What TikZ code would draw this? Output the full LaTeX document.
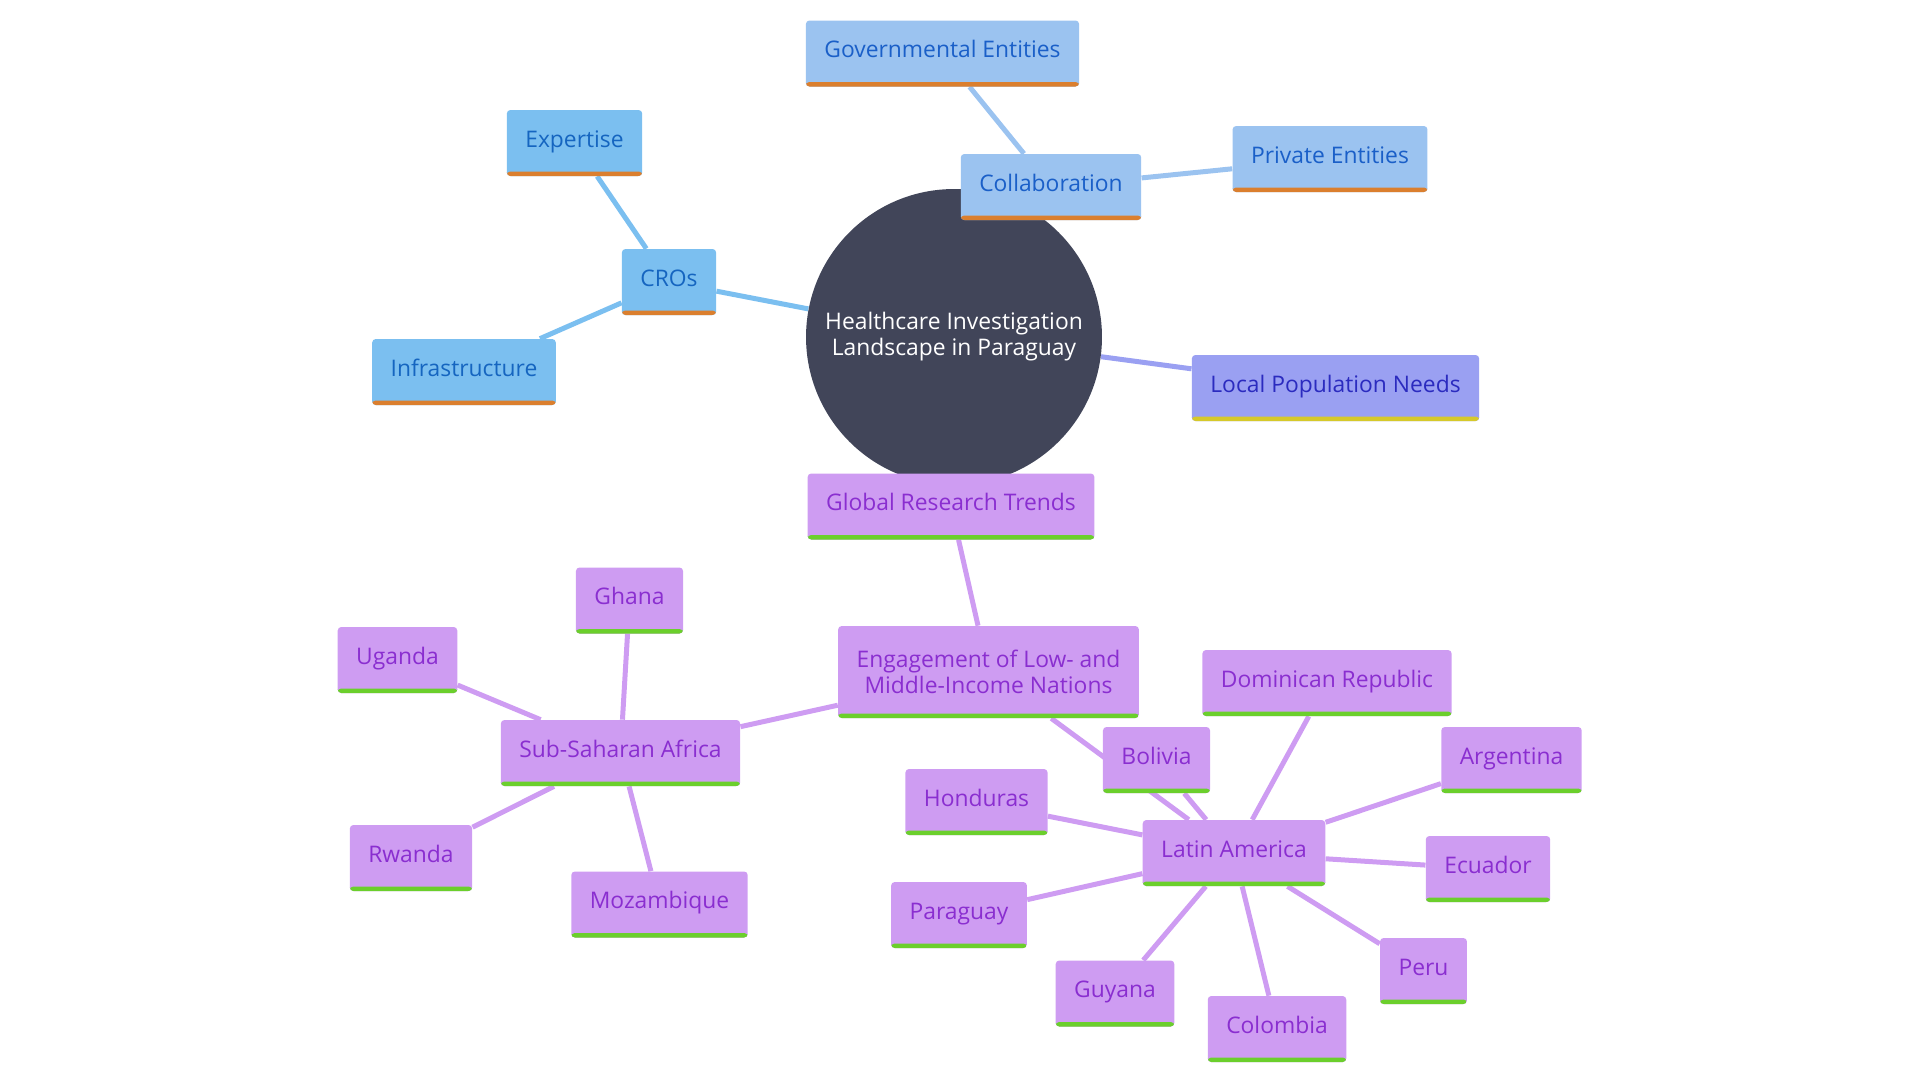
\documentclass[tikz,border=0pt]{standalone}
\usepackage{fontspec}
\setmainfont{Open Sans}
\usetikzlibrary{backgrounds}

\definecolor{hubfill}{HTML}{414559}
\definecolor{crofill}{HTML}{7BBFF0}
\definecolor{crotext}{HTML}{1565C0}
\definecolor{colfill}{HTML}{9BC3F0}
\definecolor{coltext}{HTML}{1A5FC8}
\definecolor{orangeline}{HTML}{DB7F2E}
\definecolor{locfill}{HTML}{9AA0F2}
\definecolor{loctext}{HTML}{2B2BBF}
\definecolor{yellowline}{HTML}{D6C92A}
\definecolor{purpfill}{HTML}{CE9CF2}
\definecolor{purptext}{HTML}{8A2ED0}
\definecolor{greenline}{HTML}{6BCF2C}

\tikzset{
  topic/.style={rectangle, rounded corners=2pt, minimum height=1.32cm,
    inner xsep=0.37cm, inner ysep=0pt, text height=0.32cm, text depth=0.15cm,
    font=\fontsize{13}{14.8}\selectfont, align=center},
  underbar/.style={path picture={\fill[#1] ([yshift=0.09cm]path picture bounding box.south west)
    rectangle (path picture bounding box.south east);}},
  crobox/.style={topic, fill=crofill, text=crotext, underbar=orangeline},
  colbox/.style={topic, fill=colfill, text=coltext, underbar=orangeline},
  locbox/.style={topic, fill=locfill, text=loctext, underbar=yellowline},
  purpbox/.style={topic, fill=purpfill, text=purptext, underbar=greenline},
  link/.style={line width=0.1cm},
}

\begin{document}
\begin{tikzpicture}[x=0.02cm, y=-0.02cm]
    \useasboundingbox (0,0) rectangle (1920,1080);
    % hub
    \node[circle, fill=hubfill, minimum size=5.92cm, inner sep=0pt, text=white,
      font=\fontsize{13}{14.8}\selectfont, align=center] (hub) at (954,337)
      {Healthcare Investigation\\Landscape in Paraguay};
    % CROs branch
    \node[crobox] (cros) at (669,282) {CROs};
    \node[crobox] (expert) at (574.5,143) {Expertise};
    \node[crobox] (infra) at (464,372) {Infrastructure};
    % collaboration branch
    \node[colbox] (collab) at (1051,187) {Collaboration};
    \node[colbox] (gov) at (942.5,53.5) {Governmental Entities};
    \node[colbox] (priv) at (1330,159) {Private Entities};
    % local needs
    \node[locbox] (local) at (1335.5,388) {Local Population Needs};
    % global research branch
    \node[purpbox] (global) at (951,506.5) {Global Research Trends};
    \node[purpbox, minimum height=1.84cm, text height={}, text depth={}] (engage) at (988.5,672)
      {Engagement of Low- and\\Middle-Income Nations};
    \node[purpbox] (ssa) at (620.5,753) {Sub-Saharan Africa};
    \node[purpbox] (ghana) at (629.5,600.5) {Ghana};
    \node[purpbox] (uganda) at (397.5,660) {Uganda};
    \node[purpbox] (rwanda) at (411,858) {Rwanda};
    \node[purpbox] (mozam) at (659.5,904.5) {Mozambique};
    \node[purpbox] (latam) at (1234,853) {Latin America};
    \node[purpbox] (bolivia) at (1156.5,760) {Bolivia};
    \node[purpbox] (domrep) at (1327,683) {Dominican Republic};
    \node[purpbox] (argent) at (1511.5,760) {Argentina};
    \node[purpbox] (hond) at (976.5,802) {Honduras};
    \node[purpbox] (ecuad) at (1488,869) {Ecuador};
    \node[purpbox] (parag) at (959,915) {Paraguay};
    \node[purpbox] (peru) at (1423.5,971) {Peru};
    \node[purpbox] (guyana) at (1115,993.5) {Guyana};
    \node[purpbox] (colomb) at (1277,1029) {Colombia};
    % connectors behind the boxes
    \begin{scope}[on background layer]
      \draw[link, crofill] (hub) -- (cros);
      \draw[link, crofill] (cros) -- (expert);
      \draw[link, crofill] (cros) -- (infra);
      \draw[link, colfill] (hub) -- (collab);
      \draw[link, colfill] (collab) -- (gov);
      \draw[link, colfill] (collab) -- (priv);
      \draw[link, locfill] (hub) -- (local);
      \draw[link, purpfill] (hub) -- (global);
      \draw[link, purpfill] (global) -- (engage);
      \draw[link, purpfill] (engage) -- (ssa);
      \draw[link, purpfill] (engage) -- (latam);
      \draw[link, purpfill] (ssa) -- (ghana);
      \draw[link, purpfill] (ssa) -- (uganda);
      \draw[link, purpfill] (ssa) -- (rwanda);
      \draw[link, purpfill] (ssa) -- (mozam);
      \draw[link, purpfill] (latam) -- (bolivia);
      \draw[link, purpfill] (latam) -- (domrep);
      \draw[link, purpfill] (latam) -- (argent);
      \draw[link, purpfill] (latam) -- (hond);
      \draw[link, purpfill] (latam) -- (ecuad);
      \draw[link, purpfill] (latam) -- (parag);
      \draw[link, purpfill] (latam) -- (peru);
      \draw[link, purpfill] (latam) -- (guyana);
      \draw[link, purpfill] (latam) -- (colomb);
    \end{scope}
\end{tikzpicture}
\end{document}
